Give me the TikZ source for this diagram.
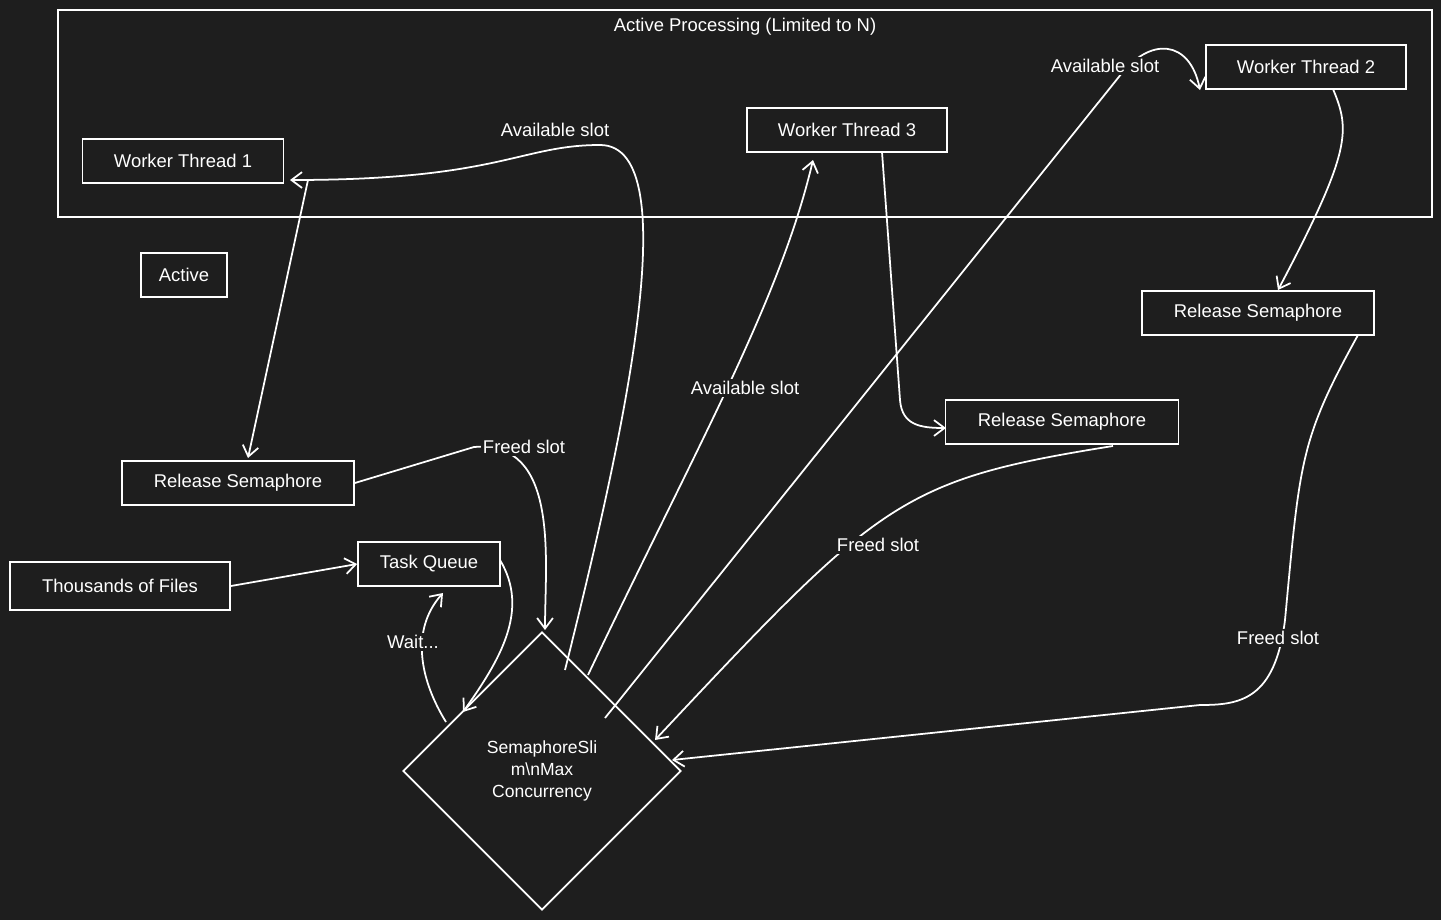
\documentclass[tikz,border=0pt]{standalone}
\usepackage{fontspec}
\setmainfont{Liberation Sans}
\usetikzlibrary{shapes.geometric,arrows.meta}
\definecolor{bg}{HTML}{1E1E1E}
\begin{document}
\begin{tikzpicture}[x=0.02cm,y=-0.02cm,
  box/.style={draw=white,line width=1pt,text=white,font=\fontsize{10.5}{12}\selectfont,minimum height=0.88cm,inner sep=0pt},
  lbl/.style={fill=bg,text=white,font=\fontsize{10.5}{12}\selectfont,inner sep=1pt},
  arr/.style={draw=white,line width=1pt,-{Straight Barb[length=6pt,width=9pt]}}]
\fill[bg] (0,0) rectangle (1441,920);
\useasboundingbox (0,0) rectangle (1441,920);
\draw[white,line width=1pt] (58,10) rectangle (1432,217);
\node[text=white,font=\fontsize{10.5}{12}\selectfont] (title) at (745,27) {Active Processing (Limited to N)};
\node[box,minimum width=4.02cm] (wt1) at (183,161) {Worker Thread 1};
\node[box,minimum width=4cm] (wt3) at (847,130) {Worker Thread 3};
\node[box,minimum width=4cm] (wt2) at (1306,67) {Worker Thread 2};
\node[box,minimum width=1.72cm] (act) at (184,275) {Active};
\node[box,minimum width=4.64cm] (rl) at (238,483) {Release Semaphore};
\node[box,minimum width=4.66cm] (rm) at (1062,422) {Release Semaphore};
\node[box,minimum width=4.64cm] (rr) at (1258,313) {Release Semaphore};
\node[box,minimum width=4.4cm,minimum height=0.96cm] (files) at (120,586) {Thousands of Files};
\node[box,minimum width=2.84cm] (tq) at (429,564) {Task Queue};
\node[draw=white,line width=1pt,diamond,minimum width=5.56cm,minimum height=5.56cm,inner sep=0pt,text=white,align=center,font=\fontsize{10}{12.5}\selectfont] (sem) at (542,771) {SemaphoreSli\\m\textbackslash nMax\\Concurrency};
\coordinate (s1) at (565,670);
\coordinate (s2) at (588,675);
\coordinate (s3) at (605,718);
\coordinate (s4) at (446,722);
\draw[arr] (files.east) -- (tq.west);
\draw[arr] (500,560) .. controls (530,610) and (500,660) .. (463,712);
\draw[arr] (s4) .. controls (420,680) and (410,630) .. (443,593);
\node[lbl] at (413,642) {Wait...};
\draw[arr] (s1) .. controls (620,450) and (690,145) .. (600,145) .. controls (520,145) and (500,180) .. (290,180);
\node[lbl] at (555,130) {Available slot};
\draw[arr] (s2) .. controls (700,440) and (780,300) .. (813,160);
\node[lbl] at (745,388) {Available slot};
\draw[arr] (s3) -- (1118,78) .. controls (1150,35) and (1190,40) .. (1200,90);
\node[lbl] at (1105,66) {Available slot};
\draw[arr] (308,180) -- (248,458);
\draw[arr] (rl.east) -- (474,447) .. controls (560,440) and (545,560) .. (545,630);
\node[lbl] at (524,447) {Freed slot};
\draw[arr] (882,152) -- (900,400) .. controls (902,425) and (920,428) .. (946,428);
\draw[arr] (1113,446) .. controls (900,480) and (880,500) .. (655,740);
\node[lbl] at (878,545) {Freed slot};
\draw[arr] (1333,89) .. controls (1350,130) and (1352,150) .. (1278,290);
\draw[arr] (1358,335) .. controls (1300,440) and (1300,460) .. (1285,620) .. controls (1275,700) and (1240,705) .. (1200,705) -- (672,760);
\node[lbl] at (1278,638) {Freed slot};
\end{tikzpicture}
\end{document}
